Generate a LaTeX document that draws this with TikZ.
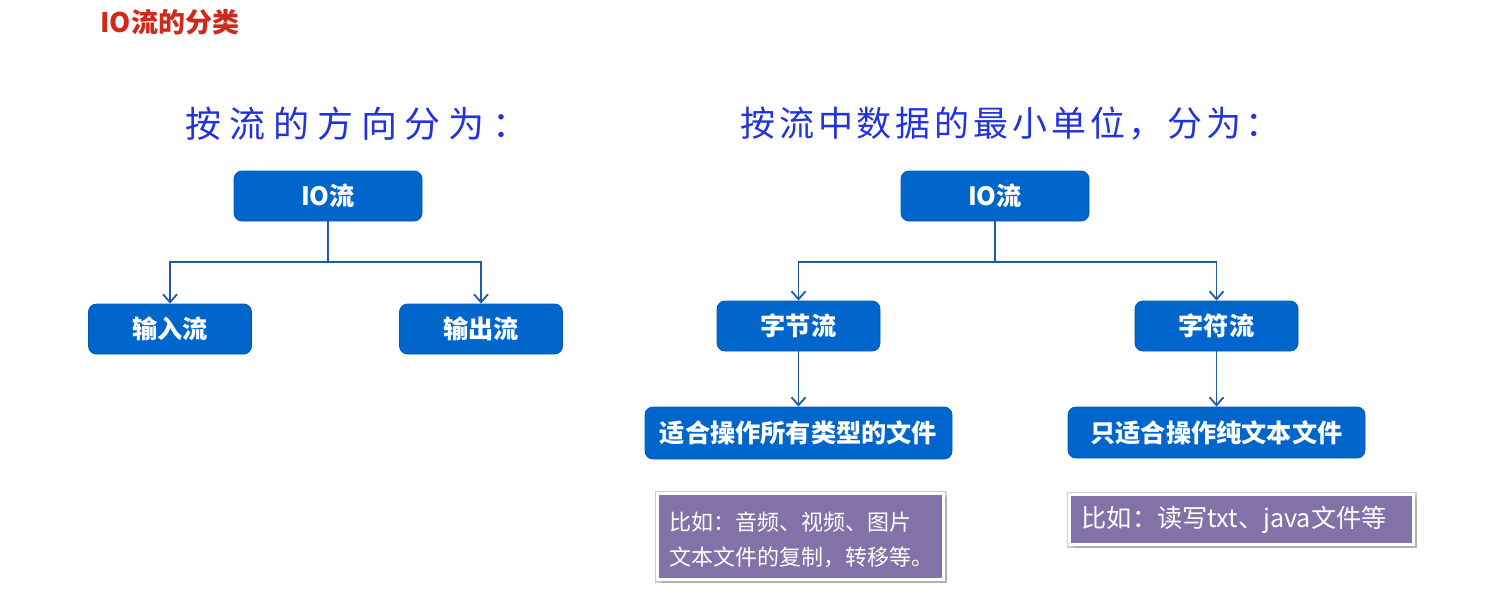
\documentclass[tikz,border=0pt]{standalone}
\usepackage{fontspec}
\setmainfont{Noto Sans CJK SC}
\usetikzlibrary{arrows.meta,shadows}
\definecolor{boxblue}{HTML}{0066CC}
\definecolor{lineblue}{HTML}{1F5AA6}
\definecolor{titlered}{HTML}{D2281A}
\definecolor{headblue}{HTML}{2233DD}
\definecolor{notepurple}{HTML}{8372A8}
\tikzset{
  bluebox/.style={fill=boxblue, draw=boxblue!85!black, line width=0.4pt, rounded corners=4pt,
    text=white, font=\fontsize{12.6}{14}\selectfont\bfseries, inner sep=0pt, minimum height=25pt},
  notebox/.style={fill=notepurple, draw=white, line width=1.6pt, text=white,
    font=\fontsize{11}{17.5}\selectfont, align=left, inner sep=0pt, anchor=north west,
    preaction={draw=gray!40, line width=3pt},
    drop shadow={opacity=0.35, shadow xshift=1.5pt, shadow yshift=-1.8pt}},
  conn/.style={draw=lineblue, line width=0.9pt},
  arr/.style={conn, -{Straight Barb[length=4pt,width=7pt,line width=0.9pt]}},
  heading/.style={text=headblue, inner sep=0pt, anchor=west}
}
\begin{document}
\begin{tikzpicture}[x=0.5pt,y=-0.5pt]
\useasboundingbox (0,0) rectangle (1508,611);
% title
\node[text=titlered, font=\fontsize{13.5}{15}\selectfont\bfseries, anchor=west, inner sep=0pt] (title) at (100,22) {IO流的分类};
% headings
\node[heading, font=\fontsize{18}{19}\selectfont\addfontfeature{LetterSpace=22}] (h1) at (185,124) {按流的方向分为：};
\node[heading, font=\fontsize{17.5}{19}\selectfont\addfontfeature{LetterSpace=11}] (h2) at (740,124) {按流中数据的最小单位，分为：};
% left tree
\node[bluebox, minimum width=94pt] (io1) at (328,196) {IO流};
\node[bluebox, minimum width=81.5pt] (in) at (170,329) {输入流};
\node[bluebox, minimum width=81.5pt] (out) at (481,329) {输出流};
\coordinate (j1) at (328,262);
\draw[conn] (io1.south) -- (j1);
\draw[arr] (j1) -| (in.north);
\draw[arr] (j1) -| (out.north);
% right tree
\node[bluebox, minimum width=94pt] (io2) at (995,196) {IO流};
\node[bluebox, minimum width=81.5pt] (byte) at (798.5,326) {字节流};
\node[bluebox, minimum width=81.5pt] (char) at (1216.5,326) {字符流};
\coordinate (j2) at (995,262);
\draw[conn] (io2.south) -- (j2);
\draw[arr] (j2) -| (byte.north);
\draw[arr] (j2) -| (char.north);
\node[bluebox, minimum width=153.5pt, minimum height=26pt] (allf) at (798.5,433) {适合操作所有类型的文件};
\node[bluebox, minimum width=148.5pt, minimum height=25.5pt] (txtf) at (1216.5,432.5) {只适合操作纯文本文件};
\draw[arr] (byte.south) -- (allf.north);
\draw[arr] (char.south) -- (txtf.north);
% notes
\node[notebox, minimum height=43pt, text width=131pt, inner xsep=6pt, inner ysep=0pt] (n1) at (656,492) {\rule{0pt}{13pt}比如：音频、视频、图片\\文本文件的复制，转移等。};
\node[notebox, minimum height=25pt, text width=160pt, inner xsep=6pt, font=\fontsize{12.6}{14}\selectfont] (n2) at (1068,493) {比如：读写txt、java文件等};
\end{tikzpicture}
\end{document}
